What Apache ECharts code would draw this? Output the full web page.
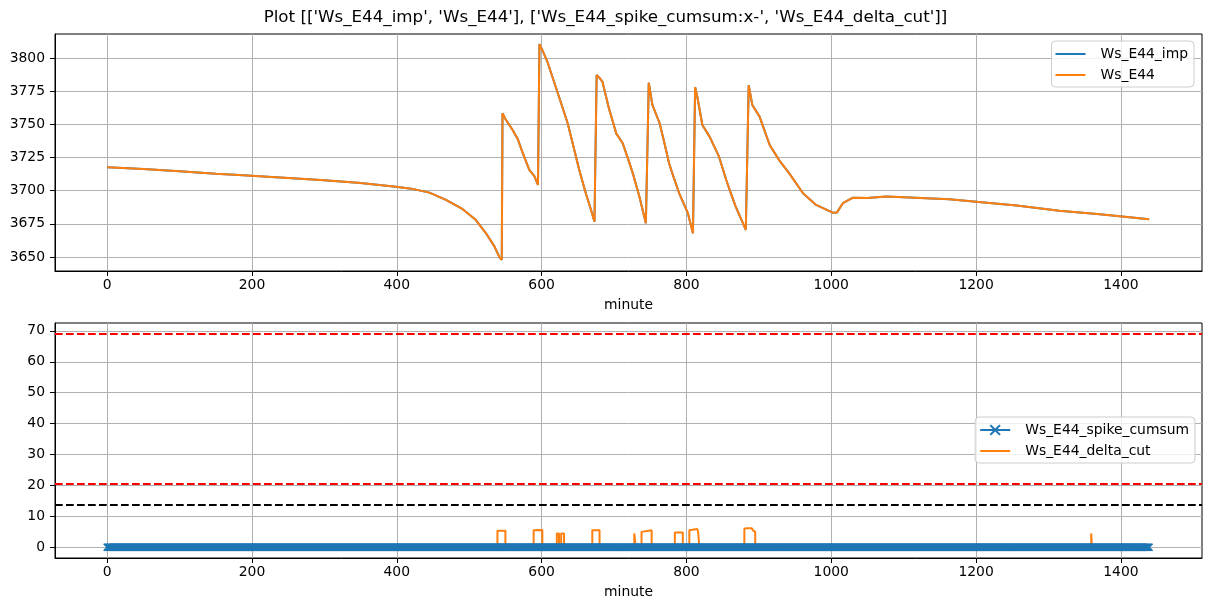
<!DOCTYPE html>
<html>
<head>
<meta charset="utf-8">
<script src="https://cdn.jsdelivr.net/npm/echarts@6/dist/echarts.min.js"></script>
<style>
html,body{margin:0;padding:0;background:#fff;}
#chart{width:1211px;height:611px;}
</style>
</head>
<body>
<div id="chart"></div>
<script>
// ---------- data ----------
const titleText = "Plot [['Ws_E44_imp', 'Ws_E44'], ['Ws_E44_spike_cumsum:x-', 'Ws_E44_delta_cut']]";
const seriesNames = ['Ws_E44_imp', 'Ws_E44', 'Ws_E44_spike_cumsum', 'Ws_E44_delta_cut'];

const wsE44Minute = [0,50,100,150,182,250,300,350,376,399,420,445,468,491,509,523,535,542,545,546,550,560,567,574,583,590,595,596,597,601,608,616,624,636,645,652,661,668,673,675,676,680,684,693,703,712,720,726,735,744,746,748,749,753,763,770,776,783,790,802,809,810,812,815,822,832,845,855,862,868,876,882,884,886,891,901,915,928,942,961,979,1002,1008,1016,1030,1050,1076,1100,1131,1163,1200,1256,1315,1371,1439];
const wsE44Value = [3717.6,3716.3,3714.6,3712.8,3711.8,3709.5,3707.8,3705.8,3704.3,3703,3701.5,3698.5,3693,3686,3678,3668,3657.8,3649.5,3647.8,3758.3,3754,3745.7,3739,3728.2,3715.6,3711,3704.3,3704,3810.5,3806,3797.2,3784,3770.8,3750.8,3731,3715.6,3698,3686,3676.6,3676,3787.2,3785,3782.2,3762,3743.2,3735.7,3723,3713,3695.5,3675.4,3674,3781.4,3780.5,3764.6,3750.8,3735,3720.6,3709,3698,3683,3667.9,3667.5,3778,3770.8,3749.5,3740.7,3725.6,3708,3697,3688,3678,3670.4,3669.5,3779.6,3764.6,3755.8,3734.4,3723,3713,3698,3689.2,3683.4,3683.6,3690.5,3694.7,3694.5,3695.5,3695,3694.3,3693.5,3691.7,3688.7,3684.9,3682.2,3678.4];

// spike cumsum: constant value over the whole day (one point per minute)
const spikeCumsumRuns = [{from: 0, to: 1439, value: 0}];

const deltaCutMinute = [0,539,539,550,550,589,589,590,601,601,621,621,624,624,627,627,631,631,670,670,680,680,728,728,730,730,738,738,740,752,752,784,784,795,795,804,804,806,815,816,818,818,880,880,883,890,892,895,895,1359,1359,1360,1360,1439];
const deltaCutValue  = [0,0,5.4,5.4,0,0,5.5,5.6,5.6,0,0,4.5,4.5,0,0,4.5,4.5,0,0,5.5,5.5,0,0,4.5,4.5,0,0,5.0,5.5,5.5,0,0,4.8,4.8,0,0,5.5,5.9,5.9,5.2,5.2,0,0,6.0,6.2,6.2,5.5,5.0,0,0,4.5,4.5,0,0];

const hlineValues = [69.1, 20.5, 13.9];
const hlineColors = ['#ff0000', '#ff0000', '#000000'];

const xTicks = [0, 200, 400, 600, 800, 1000, 1200, 1400];
const yTicksTop = [3650, 3675, 3700, 3725, 3750, 3775, 3800];
const yTicksBottom = [0, 10, 20, 30, 40, 50, 60, 70];

// ---------- build ----------
const wsE44Data = wsE44Minute.map((m, i) => [m, wsE44Value[i]]);
const deltaCutData = deltaCutMinute.map((m, i) => [m, deltaCutValue[i]]);
const spikeCumsumData = [];
spikeCumsumRuns.forEach(r => { for (let m = r.from; m <= r.to; m++) spikeCumsumData.push([m, r.value]); });

const BLUE = '#1f77b4', ORANGE = '#ff7f0e', GRIDC = '#b0b0b0';
const FONT = 'DejaVu Sans';
const xMarker = 'path://M0,1.3L1.3,0L5,3.7L8.7,0L10,1.3L6.3,5L10,8.7L8.7,10L5,6.3L1.3,10L0,8.7L3.7,5Z';
const lineIcon = 'path://M0,0L30,0L30,2L0,2Z';
const plain = v => String(v);

function xAxisCfg(gridIndex) {
  return {
    type: 'value', gridIndex, min: -72, max: 1512,
    name: 'minute', nameLocation: 'middle', nameGap: 27,
    nameTextStyle: {fontFamily: FONT, fontSize: 13.9, color: '#000'},
    axisLine: {show: true, onZero: false, lineStyle: {color: '#000', width: 1}},
    axisTick: {show: true, length: 5, lineStyle: {color: '#000', width: 1}, customValues: xTicks},
    axisLabel: {fontFamily: FONT, fontSize: 13.9, color: '#000', margin: 7, customValues: xTicks, formatter: plain},
    splitLine: {show: true, lineStyle: {color: GRIDC, width: 1}}
  };
}
function yAxisCfg(gridIndex, min, max, ticks) {
  return {
    type: 'value', gridIndex, min, max, scale: true,
    axisLine: {show: true, onZero: false, lineStyle: {color: '#000', width: 1}},
    axisTick: {show: true, length: 5, lineStyle: {color: '#000', width: 1}, customValues: ticks},
    axisLabel: {fontFamily: FONT, fontSize: 13.9, color: '#000', margin: 10, customValues: ticks, formatter: plain},
    splitLine: {show: true, lineStyle: {color: GRIDC, width: 1}}
  };
}
const legendCommon = {
  orient: 'vertical', itemWidth: 30, itemHeight: 14, itemGap: 7,
  backgroundColor: 'rgba(255,255,255,0.8)', borderColor: '#cccccc', borderWidth: 1, borderRadius: 4,
  padding: [6, 6, 5, 4],
  textStyle: {fontFamily: FONT, fontSize: 13.9, color: '#000', padding: [0, 0, 0, 10]}
};

const option = {
  animation: false,
  backgroundColor: '#fff',
  title: {text: titleText, left: 'center', top: 4,
    textStyle: {fontFamily: FONT, fontSize: 16.7, fontWeight: 'normal', color: '#000'}},
  grid: [
    {left: 55, right: 9, top: 34, height: 237, show: true, borderColor: '#000', borderWidth: 1, containLabel: false},
    {left: 55, right: 9, top: 323, height: 235, show: true, borderColor: '#000', borderWidth: 1, containLabel: false}
  ],
  xAxis: [xAxisCfg(0), xAxisCfg(1)],
  yAxis: [yAxisCfg(0, 3639.4, 3818.1, yTicksTop), yAxisCfg(1, -3.45, 72.55, yTicksBottom)],
  legend: [
    Object.assign({}, legendCommon, {right: 17, top: 41,
      data: [{name: seriesNames[0], icon: lineIcon}, {name: seriesNames[1], icon: lineIcon}]}),
    Object.assign({}, legendCommon, {right: 16, top: 417,
      data: [{name: seriesNames[2]}, {name: seriesNames[3], icon: lineIcon}]})
  ],
  series: [
    {name: seriesNames[0], type: 'line', xAxisIndex: 0, yAxisIndex: 0, data: wsE44Data,
     symbol: 'none', color: BLUE, itemStyle: {color: BLUE}, lineStyle: {width: 2, color: BLUE}},
    {name: seriesNames[1], type: 'line', xAxisIndex: 0, yAxisIndex: 0, data: wsE44Data,
     symbol: 'none', color: ORANGE, itemStyle: {color: ORANGE}, lineStyle: {width: 2, color: ORANGE}},
    {name: seriesNames[2], type: 'line', xAxisIndex: 1, yAxisIndex: 1, data: spikeCumsumData,
     symbol: xMarker, symbolSize: 8, showSymbol: true, showAllSymbol: true, color: BLUE,
     itemStyle: {color: BLUE}, lineStyle: {width: 2, color: BLUE},
     markLine: {silent: true, symbol: 'none', animation: false, label: {show: false},
       data: hlineValues.map((v, i) => ({yAxis: v, lineStyle: {color: hlineColors[i], type: [7.7, 3.3], width: 2}}))}},
    {name: seriesNames[3], type: 'line', xAxisIndex: 1, yAxisIndex: 1, data: deltaCutData,
     symbol: 'none', color: ORANGE, itemStyle: {color: ORANGE}, lineStyle: {width: 2, color: ORANGE}}
  ]
};
const chart = echarts.init(document.getElementById('chart'), null, {renderer: 'canvas'});
chart.setOption(option);
</script>
</body>
</html>
